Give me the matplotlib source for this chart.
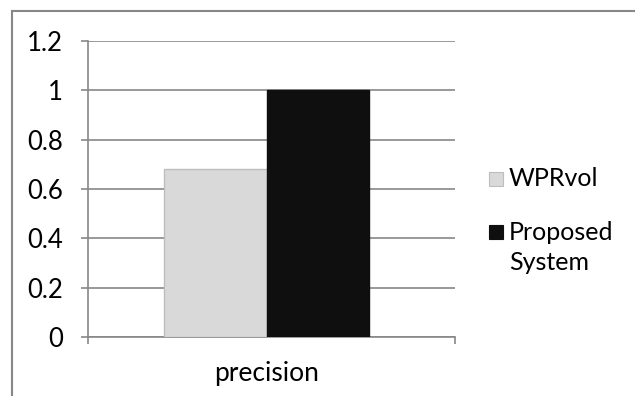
import numpy as np
import matplotlib.pyplot as plt
from matplotlib.lines import Line2D
from matplotlib.patches import Rectangle

categories = ["precision"]
series_names = ["WPRvol", "Proposed\nSystem"]
values = [0.68, 1.0]
colors = ["#d9d9d9", "#0f0f0f"]
edges = ["#bdbdbd", "#0f0f0f"]
yticks = [0, 0.2, 0.4, 0.6, 0.8, 1.0, 1.2]
ytick_labels = ["0", "0.2", "0.4", "0.6", "0.8", "1", "1.2"]

plt.rcParams['font.family'] = ['Lato', 'DejaVu Sans']
W, H = 635, 396
fig = plt.figure(figsize=(W / 100, H / 100), dpi=100)
fs = 19

# axes box in pixels: x 88..455, y 41..337
ax = fig.add_axes([88 / W, (H - 337) / H, 367 / W, 296 / H])
grey = "#878787"

width = 0.28
shift = -0.013
x = np.arange(len(categories))
for i, (v, c, e) in enumerate(zip(values, colors, edges)):
    offs = (i - (len(values) - 1) / 2) * width + shift
    ax.bar(x + offs, [v], width=width, color=c, edgecolor=e, linewidth=1, zorder=3)

ax.set_xlim(-0.5, 0.5)
ax.set_ylim(0, 1.2)
ax.set_yticks(yticks, ytick_labels)
ax.yaxis.grid(True, color=grey, linewidth=1.2)
ax.set_axisbelow(True)
for s in ["top", "right"]:
    ax.spines[s].set_visible(False)
for s in ["left", "bottom"]:
    ax.spines[s].set_color(grey)
    ax.spines[s].set_linewidth(1.2)
ax.tick_params(axis="y", length=5, width=1.2, color=grey, pad=13, labelsize=18.5)
ax.set_xticks(x + shift, categories)
ax.tick_params(axis="x", length=0, pad=17, labelsize=fs)
ax.set_xticks([-0.5, 0.5], minor=True)
ax.tick_params(axis="x", which="minor", length=5, width=1.2, color=grey)

# outer chart border (top and left visible)
fig.add_artist(Line2D([12 / W, 1], [1 - 11 / H, 1 - 11 / H], color=grey, linewidth=1.5,
                      transform=fig.transFigure))
fig.add_artist(Line2D([12 / W, 12 / W], [0, 1 - 11 / H], color=grey, linewidth=1.5,
                      transform=fig.transFigure))

# legend
leg_y = [179, 232]
for name, c, e, yy in zip(series_names, colors, edges, leg_y):
    fig.add_artist(Rectangle((489 / W, 1 - (yy + 7) / H), 14 / W, 14 / H, facecolor=c,
                             edgecolor=e, linewidth=0.8, transform=fig.transFigure))
    lines = name.split("\n")
    for k, ln in enumerate(lines):
        fig.text(509 / W, 1 - (yy + k * 31) / H, ln, fontsize=18, va="center", ha="left")

fig.savefig("out.png", dpi=100)
